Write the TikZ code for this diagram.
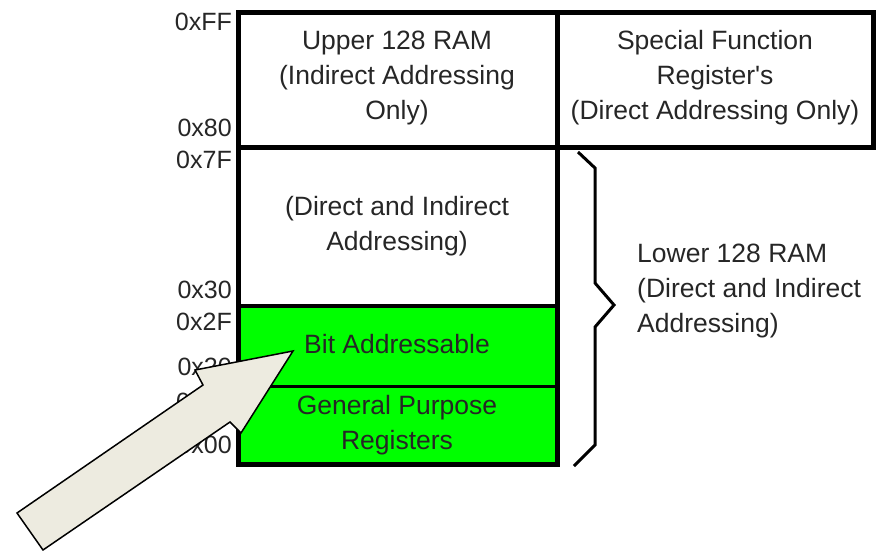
\documentclass[tikz,border=0pt]{standalone}
\usepackage{fontspec}
\setmainfont{Liberation Sans}
\definecolor{arrowfill}{HTML}{EDEBE0}
\definecolor{memgreen}{HTML}{00FF00}
\definecolor{txtgray}{HTML}{262626}
\begin{document}
\begin{tikzpicture}[x=1pt,y=-1pt,
  txt/.style={font=\fontsize{26.5}{35}\selectfont, text=txtgray, align=center, inner sep=0pt},
  addr/.style={font=\fontsize{25}{30}\selectfont, text=txtgray, anchor=east, inner sep=0pt},
  thick line/.style={line width=5pt},
  mid line/.style={line width=3.5pt},
  thin line/.style={line width=3pt}]
\useasboundingbox (0,0) rectangle (881,550);
% green region
\fill[memgreen] (238,306) rectangle (557,464);
% boxes
\draw[thick line] (238,12) rectangle (557,464);
\draw[thick line] (238,147) -- (557,147);
\draw[mid line] (238,306) -- (557,306);
\draw[thin line] (238,386) -- (557,386);
\draw[thick line] (557,12) rectangle (873,147);
% box texts
\node[txt] (upper) at (397,78) {Upper 128 RAM\\(Indirect Addressing\\Only)};
\node[txt] (sfr) at (715,78) {Special Function\\Register\textquotesingle s\\(Direct Addressing Only)};
\node[txt] (direct) at (397,226) {(Direct and Indirect\\Addressing)};
\node[txt] (bit) at (397,344) {Bit Addressable};
\node[txt] (gpr) at (397,425) {General Purpose\\Registers};
% address labels
\node[addr] (aFF) at (232,22) {0xFF};
\node[addr] (a80) at (232,128) {0x80};
\node[addr] (a7F) at (232,160) {0x7F};
\node[addr] (a30) at (232,290) {0x30};
\node[addr] (a2F) at (232,322) {0x2F};
\node[addr] (a20) at (232,367) {0x20};
\node[addr] (a1F) at (232,402) {0x1F};
\node[addr] (a00) at (232,445) {0x00};
% brace
\draw[thin line, line join=miter] (578,152) -- (595,168) -- (595,283) -- (614,305) -- (595,327) -- (595,445) -- (574,466);
\node[txt, align=left, anchor=west] (lower) at (637,291) {Lower 128 RAM\\(Direct and Indirect\\Addressing)};
% block arrow
\draw[fill=arrowfill, line width=1.5pt, line join=miter] (17,513) -- (203,385) -- (195,370) -- (293,351) -- (241,433) -- (230,422) -- (43,550) -- cycle;
\end{tikzpicture}
\end{document}
